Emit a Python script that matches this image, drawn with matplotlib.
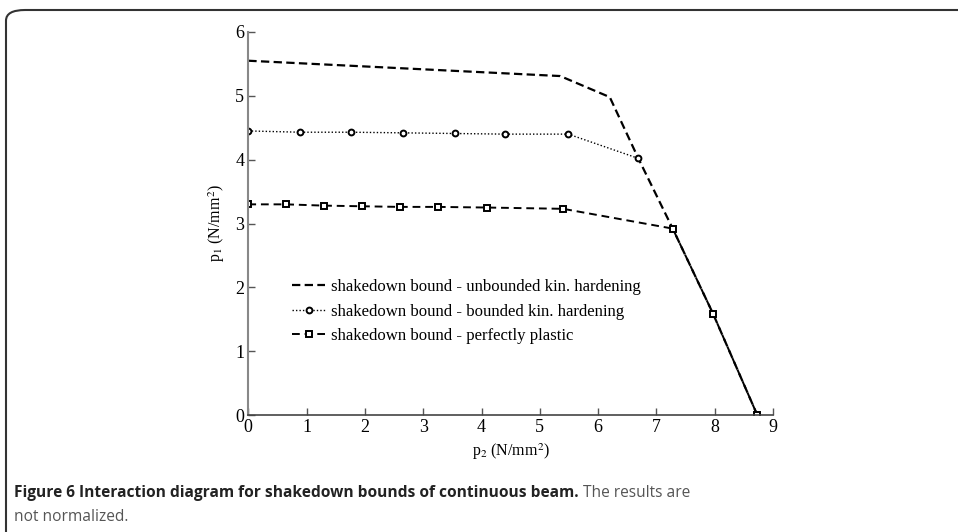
import matplotlib
matplotlib.use('Agg')
import matplotlib.pyplot as plt
from matplotlib.patches import FancyBboxPatch

# data
p2_unbounded = [0.0, 5.35, 6.2, 6.69, 7.28, 7.97, 8.73]
p1_unbounded = [5.55, 5.31, 4.98, 4.02, 2.92, 1.59, 0.0]

p2_bounded = [0.0, 0.89, 1.77, 2.66, 3.54, 4.40, 5.49, 6.69]
p1_bounded = [4.45, 4.43, 4.43, 4.42, 4.41, 4.40, 4.40, 4.02]

p2_plastic = [0.0, 0.65, 1.3, 1.95, 2.6, 3.25, 4.1, 5.4, 7.28, 7.97, 8.73]
p1_plastic = [3.30, 3.30, 3.28, 3.27, 3.26, 3.26, 3.25, 3.23, 2.92, 1.59, 0.0]

labels = ['shakedown bound - unbounded kin. hardening',
          'shakedown bound - bounded kin. hardening',
          'shakedown bound - perfectly plastic']

serif = ['Liberation Serif', 'DejaVu Serif']
plt.rcParams['mathtext.fontset'] = 'stix'

fig = plt.figure(figsize=(9.58, 5.32), dpi=100)

# rounded frame around the figure
frame = FancyBboxPatch((6 / 958, -0.2), 1.2, 1.2 - 10 / 532,
                       boxstyle='round,pad=0,rounding_size=0.02',
                       transform=fig.transFigure, fill=False,
                       edgecolor='#333333', linewidth=1.5)
fig.patches.append(frame)

ax = fig.add_axes([248.3 / 958, 1 - 415 / 532, (773 - 248.3) / 958, 383 / 532])

ax.plot(p2_unbounded, p1_unbounded, color='black', linewidth=1.6,
        linestyle=(0, (3.75, 1.95)), label=labels[0])
ax.plot(p2_bounded, p1_bounded, color='black', linewidth=1.0,
        linestyle=(0, (1, 1.5)), marker='o', markersize=4.2,
        markerfacecolor='white', markeredgewidth=1.4, label=labels[1])
ax.plot(p2_plastic, p1_plastic, color='black', linewidth=1.4,
        linestyle=(0, (4, 2.5)), marker='s', markersize=4.6,
        markerfacecolor='white', markeredgewidth=1.4, label=labels[2])

ax.set_xlim(0, 9)
ax.set_ylim(0, 6)
ax.set_xticks(range(10))
ax.set_yticks(range(7))
ax.spines['top'].set_visible(False)
ax.spines['right'].set_visible(False)
ax.spines['left'].set_color('#888888')
ax.spines['bottom'].set_color('#444444')
ax.spines['left'].set_linewidth(1.5)
ax.spines['bottom'].set_linewidth(1.2)
ax.tick_params(direction='in', length=5, width=1, colors='#555555',
               labelcolor='black', labelsize=13, pad=3)
for lbl in ax.get_xticklabels() + ax.get_yticklabels():
    lbl.set_family(serif)

ax.set_xlabel('p$_2$ (N/mm$^2$)', fontsize=11.5, family=serif, labelpad=4)
ax.set_ylabel('p$_1$ (N/mm$^2$)', fontsize=11.5, family=serif, labelpad=6)

ax.legend(loc='center left', bbox_to_anchor=(0.083, 0.27), frameon=False,
          prop={'family': serif, 'size': 12.1}, borderpad=0,
          borderaxespad=0, handlelength=2.0, handletextpad=0.3,
          labelspacing=0.5)

cap1 = fig.text(14 / 958, 1 - 497 / 532,
                'Figure 6 Interaction diagram for shakedown bounds of continuous beam.',
                fontsize=11.2, family='Open Sans', weight='bold', color='#222222')
fig.canvas.draw()
bb = cap1.get_window_extent()
x_next = bb.x1 / fig.bbox.width
fig.text(x_next, 1 - 497 / 532, ' The results are', fontsize=11.2,
         family='Open Sans', color='#555555')
fig.text(14 / 958, 1 - 521 / 532, 'not normalized.', fontsize=11.2,
         family='Open Sans', color='#555555')

fig.savefig('out.png', dpi=100)
